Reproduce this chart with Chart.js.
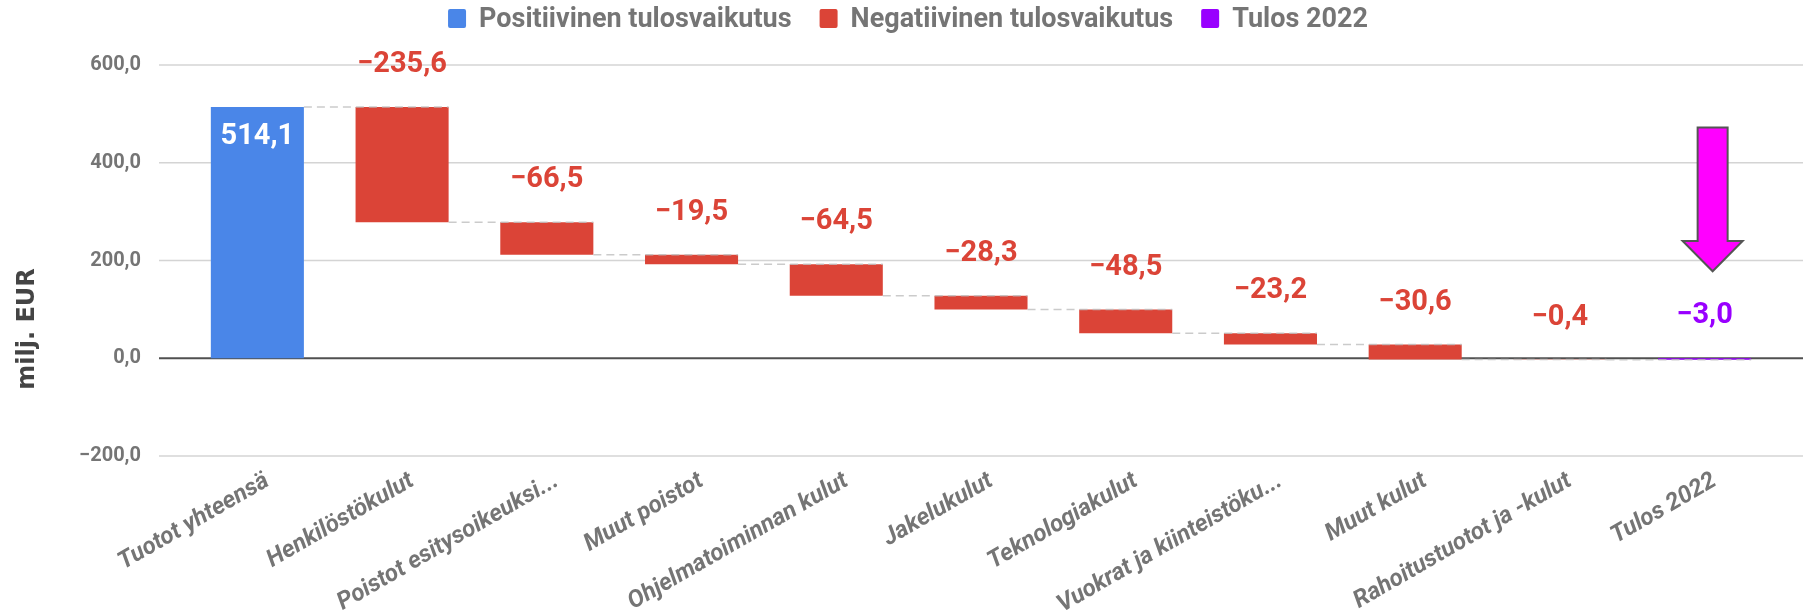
<!DOCTYPE html>
<html>
<head>
<meta charset="utf-8">
<script src="https://cdn.jsdelivr.net/npm/chart.js@4.4.1/dist/chart.umd.min.js"></script>
<style>
  html, body { margin: 0; padding: 0; background: #fff; }
</style>
</head>
<body>
<canvas id="tulosChart" width="1810" height="611"></canvas>
<script>
var categories = [
    "Tuotot yhteensä",
    "Henkilöstökulut",
    "Poistot esitysoikeuksi...",
    "Muut poistot",
    "Ohjelmatoiminnan kulut",
    "Jakelukulut",
    "Teknologiakulut",
    "Vuokrat ja kiinteistöku...",
    "Muut kulut",
    "Rahoitustuotot ja -kulut",
    "Tulos 2022",
];
var changes = [514.1, -235.6, -66.5, -19.5, -64.5, -28.3, -48.5, -23.2, -30.6, -0.4];
var result = -3.0;
var yTicks = [-200, 0, 200, 400, 600];
var seriesNames = ["Positiivinen tulosvaikutus", "Negatiivinen tulosvaikutus", "Tulos 2022"];
var seriesColors = ["#4a86e8", "#db4437", "#9900ff"];
// magenta arrow pointing at the result: top of shaft, head base, tip (in milj. EUR)
var arrowValues = [472, 240, 178];

// waterfall segments [start, end] built from the changes
var posData = [], negData = [], totData = [];
var running = 0;
changes.forEach(function (v) {
    var seg = [running, running + v];
    running += v;
    posData.push(v >= 0 ? seg : null);
    negData.push(v < 0 ? seg : null);
    totData.push(null);
});
posData.push(null);
negData.push(null);
totData.push([0, result]);

function fmt(v) {
    var s = Math.abs(v).toFixed(1).replace(".", ",");
    return (v < 0 ? "\u2212" : "") + s;
}

function segFor(i) {
    return posData[i] || negData[i] || totData[i];
}
function dsFor(i) {
    return posData[i] ? 0 : negData[i] ? 1 : 2;
}

var tickColor = "#757575";

var waterfallPlugin = {
    id: "waterfall",
    beforeDatasetsDraw: function (chart) {
        var ctx = chart.ctx, a = chart.chartArea, y = chart.scales.y;
        var x0 = a.left - 26, x1 = a.right + 26;
        ctx.save();
        yTicks.forEach(function (v) {
            var py = y.getPixelForValue(v);
            ctx.beginPath();
            ctx.strokeStyle = v === 0 ? "#505050" : "#d4d4d4";
            ctx.lineWidth = v === 0 ? 2 : 1.5;
            ctx.moveTo(x0, py);
            ctx.lineTo(x1, py);
            ctx.stroke();
        });
        ctx.restore();
    },
    afterDatasetsDraw: function (chart) {
        var ctx = chart.ctx, y = chart.scales.y;
        ctx.save();
        // dashed connectors
        ctx.setLineDash([8, 5]);
        ctx.strokeStyle = "rgba(190,190,190,0.8)";
        ctx.lineWidth = 1.5;
        for (var i = 0; i < categories.length - 1; i++) {
            var el = chart.getDatasetMeta(dsFor(i)).data[i];
            var nx = chart.getDatasetMeta(dsFor(i + 1)).data[i + 1];
            var level = segFor(i)[1];
            var py = y.getPixelForValue(level);
            ctx.beginPath();
            ctx.moveTo(el.x + el.width / 2, py);
            ctx.lineTo(nx.x + nx.width / 2, py);
            ctx.stroke();
        }
        ctx.setLineDash([]);

        // value labels
        ctx.font = "bold 29px Roboto";
        ctx.textAlign = "center";
        ctx.textBaseline = "alphabetic";
        for (var j = 0; j < categories.length; j++) {
            var seg = segFor(j);
            var val = j < changes.length ? changes[j] : result;
            var top = y.getPixelForValue(Math.max(seg[0], seg[1]));
            var e = chart.getDatasetMeta(dsFor(j)).data[j];
            if (val > 0) {
                ctx.fillStyle = "#ffffff";
                ctx.fillText(fmt(val), e.x, top + 37);
            } else {
                ctx.fillStyle = seriesColors[dsFor(j)];
                ctx.fillText(fmt(val), e.x, top - 35);
            }
        }

        // arrow
        var last = categories.length - 1;
        var xc = chart.scales.x.getPixelForValue(last) + 8;
        var yTop = y.getPixelForValue(arrowValues[0]);
        var yHead = y.getPixelForValue(arrowValues[1]);
        var yTip = y.getPixelForValue(arrowValues[2]);
        ctx.beginPath();
        ctx.moveTo(xc - 15, yTop);
        ctx.lineTo(xc + 15, yTop);
        ctx.lineTo(xc + 15, yHead);
        ctx.lineTo(xc + 30, yHead);
        ctx.lineTo(xc, yTip);
        ctx.lineTo(xc - 30, yHead);
        ctx.lineTo(xc - 15, yHead);
        ctx.closePath();
        ctx.fillStyle = "#ff00ff";
        ctx.fill();
        ctx.strokeStyle = "#555555";
        ctx.lineWidth = 2;
        ctx.stroke();
        ctx.restore();
    },
    afterDraw: function (chart) {
        var ctx = chart.ctx;
        ctx.save();
        // legend
        ctx.font = "bold 27px Roboto";
        var box = 18, gap = 13, itemGap = 28;
        var total = 0;
        var widths = seriesNames.map(function (n) { return ctx.measureText(n).width; });
        widths.forEach(function (w) { total += box + gap + w; });
        total += itemGap * (seriesNames.length - 1);
        var x = chart.width / 2 + 3 - total / 2;
        ctx.textAlign = "left";
        ctx.textBaseline = "alphabetic";
        seriesNames.forEach(function (n, k) {
            ctx.fillStyle = seriesColors[k];
            ctx.beginPath();
            ctx.roundRect(x, 9, box, 19, 2);
            ctx.fill();
            ctx.fillStyle = tickColor;
            ctx.fillText(n, x + box + gap, 27);
            x += box + gap + widths[k] + itemGap;
        });

        // axis title
        ctx.translate(28, 329);
        ctx.rotate(-Math.PI / 2);
        ctx.font = "bold 24px 'DejaVu Sans'";
        ctx.fillStyle = "#444444";
        ctx.textAlign = "center";
        ctx.textBaseline = "middle";
        ctx.fillText("milj. EUR", 0, 0);
        ctx.restore();
    },
};

new Chart("tulosChart", {
    type: "bar",
    data: {
        labels: categories,
        datasets: [
            { label: seriesNames[0], data: posData, backgroundColor: seriesColors[0] },
            { label: seriesNames[1], data: negData, backgroundColor: seriesColors[1] },
            { label: seriesNames[2], data: totData, backgroundColor: seriesColors[2] },
        ],
    },
    options: {
        responsive: false,
        animation: false,
        layout: { padding: { top: 65, left: 0, right: 0, bottom: 0 } },
        datasets: {
            bar: { grouped: false, barPercentage: 0.643, categoryPercentage: 1 },
        },
        plugins: {
            legend: { display: false },
            tooltip: { enabled: false },
        },
        scales: {
            x: {
                grid: { display: false },
                border: { display: false },
                ticks: {
                    minRotation: 30,
                    maxRotation: 30,
                    autoSkip: false,
                    padding: 3,
                    labelOffset: 10,
                    color: tickColor,
                    font: { family: "Roboto", size: 24, weight: "bold", style: "italic" },
                },
                afterFit: function (s) { s.height = 155; },
            },
            y: {
                min: -200,
                max: 600,
                afterBuildTicks: function (s) {
                    s.ticks = yTicks.map(function (v) { return { value: v }; });
                },
                grid: { display: false },
                border: { display: false },
                ticks: {
                    padding: 36,
                    color: tickColor,
                    font: { family: "Roboto", size: 20, weight: "bold" },
                    callback: function (v) { return fmt(v); },
                },
                afterFit: function (s) { s.width = 185; },
            },
            y2: {
                type: "linear",
                position: "right",
                grid: { display: false },
                border: { display: false },
                ticks: { display: false },
                afterFit: function (s) { s.width = 33; },
            },
        },
    },
    plugins: [waterfallPlugin],
});
</script>
</body>
</html>
